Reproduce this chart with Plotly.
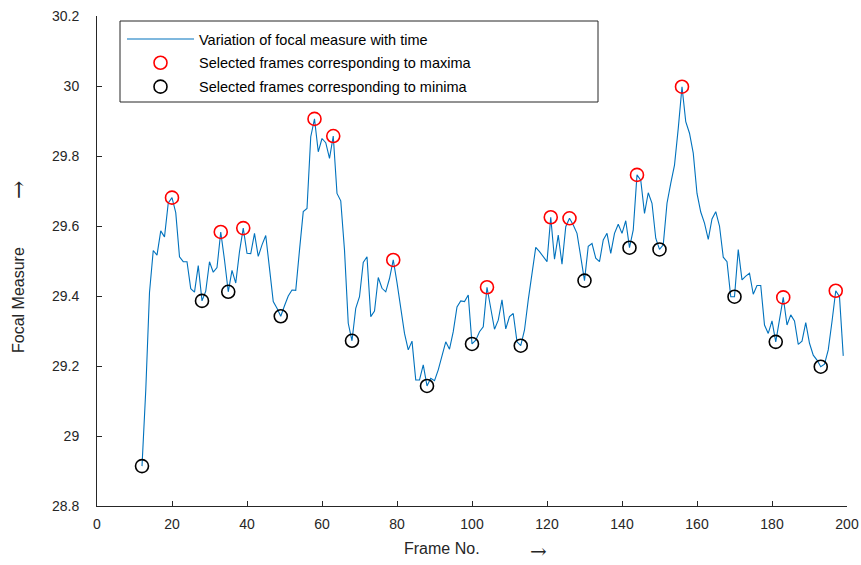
import plotly.graph_objects as go

# ---------------- data ----------------
frames = list(range(12, 200))
focal = [
    28.914, 29.130, 29.410, 29.530, 29.517, 29.586, 29.569, 29.666, 29.681, 29.638,   # 12-21
    29.512, 29.498, 29.498, 29.421, 29.411, 29.487, 29.386, 29.414, 29.498, 29.468,   # 22-31
    29.481, 29.583, 29.503, 29.412, 29.473, 29.437, 29.527, 29.594, 29.522, 29.521,   # 32-41
    29.579, 29.513, 29.546, 29.573, 29.479, 29.384, 29.365, 29.342, 29.372, 29.400,   # 42-51
    29.417, 29.416, 29.531, 29.641, 29.650, 29.855, 29.906, 29.812, 29.850, 29.838,   # 52-61
    29.793, 29.857, 29.693, 29.672, 29.531, 29.322, 29.272, 29.365, 29.398, 29.496,   # 62-71
    29.512, 29.341, 29.357, 29.453, 29.422, 29.412, 29.450, 29.503, 29.438, 29.369,   # 72-81
    29.293, 29.246, 29.271, 29.160, 29.160, 29.203, 29.143, 29.165, 29.158, 29.189,   # 82-91
    29.227, 29.269, 29.248, 29.298, 29.369, 29.386, 29.384, 29.403, 29.263, 29.274,   # 92-101
    29.298, 29.312, 29.425, 29.369, 29.305, 29.331, 29.389, 29.306, 29.341, 29.350,   # 102-111
    29.269, 29.258, 29.303, 29.389, 29.469, 29.539, 29.527, 29.512, 29.498, 29.625,   # 112-121
    29.505, 29.574, 29.491, 29.598, 29.622, 29.603, 29.579, 29.512, 29.444, 29.542,   # 122-131
    29.550, 29.508, 29.498, 29.560, 29.579, 29.522, 29.579, 29.605, 29.579, 29.615,   # 132-141
    29.538, 29.589, 29.746, 29.731, 29.636, 29.695, 29.665, 29.565, 29.533, 29.546,   # 142-151
    29.665, 29.722, 29.774, 29.879, 29.998, 29.898, 29.865, 29.808, 29.693, 29.640,   # 152-161
    29.608, 29.562, 29.620, 29.641, 29.600, 29.511, 29.498, 29.398, 29.398, 29.533,   # 162-171
    29.446, 29.457, 29.465, 29.405, 29.430, 29.430, 29.317, 29.293, 29.329, 29.269,   # 172-181
    29.327, 29.396, 29.317, 29.346, 29.329, 29.262, 29.271, 29.324, 29.265, 29.231,   # 182-191
    29.217, 29.198, 29.205, 29.246, 29.327, 29.415, 29.398, 29.229,                   # 192-199
]
max_frames = [20, 33, 39, 58, 63, 79, 104, 121, 126, 144, 156, 183, 197]
min_frames = [12, 28, 35, 49, 68, 88, 100, 113, 130, 142, 150, 170, 181, 193]

x_ticks = list(range(0, 201, 20))
y_ticks = [28.8, 29.0, 29.2, 29.4, 29.6, 29.8, 30.0, 30.2]
y_tick_labels = ["28.8", "29", "29.2", "29.4", "29.6", "29.8", "30", "30.2"]

series_names = ["Variation of focal measure with time",
                "Selected frames corresponding to maxima",
                "Selected frames corresponding to minima"]

lookup = dict(zip(frames, focal))
max_vals = [lookup[f] for f in max_frames]
min_vals = [lookup[f] for f in min_frames]

# ---------------- figure ----------------
FONT = "Liberation Sans, Arial, sans-serif"
AXC = "#262626"

fig = go.Figure()
fig.add_trace(go.Scatter(x=frames, y=focal, mode="lines", name=series_names[0],
                         line=dict(color="#0072BD", width=1.1), legendgroup="a"))
fig.add_trace(go.Scatter(x=max_frames, y=max_vals, mode="markers", name=series_names[1],
                         marker=dict(symbol="circle-open", size=13, color="#FF0000",
                                     line=dict(width=1.6, color="#FF0000")), legendgroup="b"))
fig.add_trace(go.Scatter(x=min_frames, y=min_vals, mode="markers", name=series_names[2],
                         marker=dict(symbol="circle-open", size=13, color="#000000",
                                     line=dict(width=1.6, color="#000000")), legendgroup="c"))

W, H = 861, 565
L, R, T, B = 97, 14, 16, 59
pw, ph = W - L - R, H - T - B

def px(xp):
    return (xp - L) / pw

def py(yp):
    return (H - B - yp) / ph

fig.update_layout(
    width=W, height=H,
    margin=dict(l=L, r=R, t=T, b=B, pad=0, autoexpand=False),
    paper_bgcolor="white", plot_bgcolor="white",
    font=dict(family=FONT, size=14, color=AXC),
    showlegend=True,
    legend=dict(x=px(122), y=py(23), xanchor="left", yanchor="top",
                bgcolor="rgba(0,0,0,0)", borderwidth=0,
                font=dict(family=FONT, size=14.5, color="#000000"),
                itemwidth=67, tracegroupgap=2),
    xaxis=dict(range=[0, 200], tickvals=x_ticks, ticks="inside", ticklen=5,
               tickcolor=AXC, showline=True, linecolor=AXC, linewidth=1,
               showgrid=False, zeroline=False, ticklabelstandoff=5, automargin=False,
               tickfont=dict(family=FONT, size=14, color=AXC)),
    yaxis=dict(range=[28.8, 30.2], tickvals=y_ticks, ticktext=y_tick_labels,
               ticks="inside", ticklen=5, tickcolor=AXC, showline=True,
               linecolor=AXC, linewidth=1, showgrid=False, zeroline=False,
               ticklabelstandoff=14, automargin=False,
               tickfont=dict(family=FONT, size=14, color=AXC)),
    shapes=[dict(type="rect", xref="paper", yref="paper",
                 x0=px(120), x1=px(598), y0=py(102), y1=py(21),
                 line=dict(color=AXC, width=1), fillcolor="rgba(0,0,0,0)",
                 layer="below")],
    annotations=[
        dict(text="Frame No.", xref="paper", yref="paper", x=px(442), y=py(548),
             xanchor="center", yanchor="middle",
             showarrow=False, font=dict(family=FONT, size=16, color=AXC)),
        dict(text="Focal Measure", xref="paper", yref="paper", x=px(18), y=py(300),
             xanchor="center", yanchor="middle",
             showarrow=False, textangle=-90, font=dict(family=FONT, size=16, color=AXC)),
        dict(text="\u2192", xref="paper", yref="paper", x=px(538), y=py(551),
             xanchor="center", yanchor="middle",
             showarrow=False, font=dict(family="DejaVu Serif, serif", size=20, color=AXC)),
        dict(text="\u2192", xref="paper", yref="paper", x=px(18), y=py(190),
             xanchor="center", yanchor="middle", textangle=-90,
             showarrow=False, font=dict(family="DejaVu Serif, serif", size=22, color=AXC)),
    ],
)

fig.write_html("out.html")
